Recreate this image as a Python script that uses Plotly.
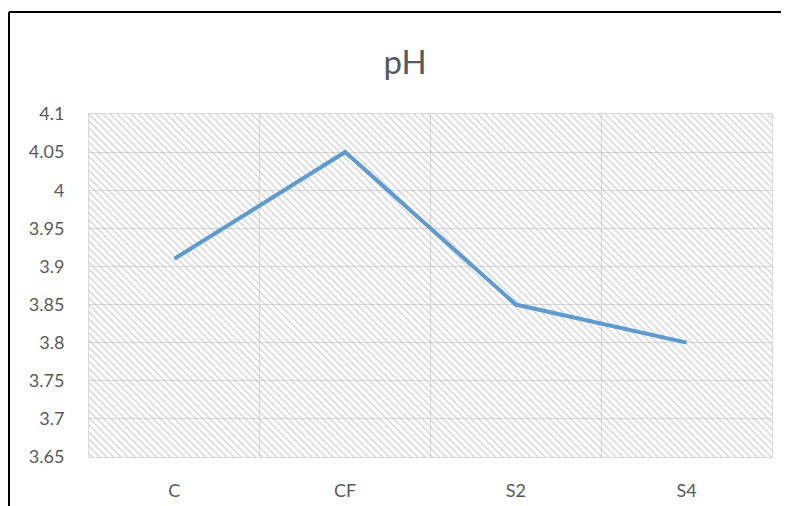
import plotly.graph_objects as go

categories = ["C", "CF", "S2", "S4"]
ph_values = [3.91, 4.05, 3.85, 3.80]
y_ticks = [3.65, 3.7, 3.75, 3.8, 3.85, 3.9, 3.95, 4.0, 4.05, 4.1]
y_tick_labels = ["3.65", "3.7", "3.75", "3.8", "3.85", "3.9", "3.95", "4", "4.05", "4.1"]
Y_MIN, Y_MAX = 3.65, 4.1

# page body has an 8px offset
OFF = 8
W, H = 789 - OFF, 506 - OFF
ML, MR, MT, MB = 89 - OFF, 17, 114 - OFF, 49
pw, ph = W - ML - MR, H - MT - MB

fig = go.Figure()

# hatched plot-area background
fig.add_trace(go.Bar(
    x=categories,
    y=[Y_MAX - Y_MIN] * len(categories),
    base=Y_MIN,
    width=1,
    marker=dict(
        color="rgba(0,0,0,0)",
        line=dict(width=0),
        pattern=dict(shape="\\", fgcolor="#b8b8b8", bgcolor="rgba(0,0,0,0)",
                     size=5, solidity=0.35, fillmode="overlay"),
    ),
    hoverinfo="skip",
    showlegend=False,
))

fig.add_trace(go.Scatter(
    x=categories, y=ph_values, mode="lines",
    line=dict(color="#5b9bd5", width=4),
    showlegend=False,
))

tickfont = dict(family="Lato, Noto Sans, sans-serif", size=18, color="#595959")

bx0 = (9 - OFF - ML) / pw
by0 = 1 + (MT - (12 - OFF)) / ph

fig.update_layout(
    width=W, height=H,
    margin=dict(l=ML, r=MR, t=MT, b=MB, autoexpand=False),
    paper_bgcolor="white", plot_bgcolor="white",
    bargap=0,
    title=dict(text="pH", x=(405 - OFF) / W, xanchor="center",
               y=1 - (62 - OFF) / H, yanchor="middle",
               font=dict(family="Lato, Noto Sans, sans-serif", size=33, color="#595959")),
    xaxis=dict(
        type="category", range=[-0.5, len(categories) - 0.5], automargin=False,
        tickson="boundaries", showgrid=True, gridcolor="#d9d9d9", gridwidth=1,
        showline=True, linecolor="#d9d9d9", linewidth=1, mirror=True,
        ticks="", tickfont=tickfont, ticklabelstandoff=17,
        zeroline=False,
    ),
    yaxis=dict(
        range=[Y_MIN, Y_MAX], tickvals=y_ticks, ticktext=y_tick_labels, automargin=False,
        showgrid=True, gridcolor="#d9d9d9", gridwidth=1,
        showline=True, linecolor="#d9d9d9", linewidth=1, mirror=True,
        ticks="", tickfont=tickfont, ticklabelstandoff=20,
        zeroline=False,
    ),
    shapes=[
        dict(type="line", xref="paper", yref="paper", layer="above",
             x0=bx0, x1=(W + 50 - ML) / pw, y0=by0, y1=by0,
             line=dict(color="black", width=2)),
        dict(type="line", xref="paper", yref="paper", layer="above",
             x0=bx0, x1=bx0, y0=by0, y1=-(MB + 50) / ph,
             line=dict(color="black", width=2)),
    ],
)

fig.write_html("out.html", config={"displayModeBar": False})
